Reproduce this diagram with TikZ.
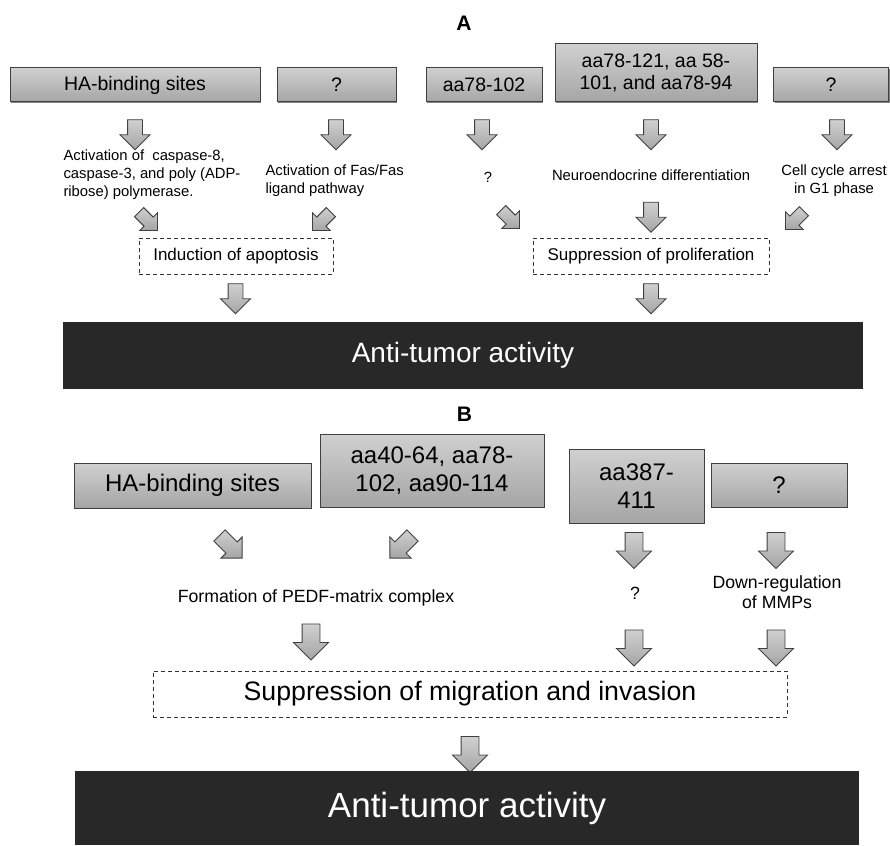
\documentclass[tikz,border=0pt]{standalone}
\usepackage{fontspec}
\setmainfont{Liberation Sans}
\usepackage{tikz}
\definecolor{Boxl}{RGB}{208,208,208}
\definecolor{Boxd}{RGB}{165,165,165}
\definecolor{Barb}{RGB}{40,40,40}
\usetikzlibrary{shapes.arrows, shadows}

\tikzset{
    grbox/.style={draw=black!75, line width=1pt, top color=Boxl, bottom color=Boxd,
                  drop shadow={shadow xshift=1.2pt, shadow yshift=-1.2pt, fill=black!60, opacity=0.8},
                  inner sep=0pt, align=center},
    dbox/.style={draw=black!80, line width=0.9pt, dash pattern=on 4pt off 3pt,
                 fill=white, inner sep=0pt},
    bar/.style={fill=Barb, text=white, inner sep=0pt},
    barr/.style={single arrow, draw=black!75, line width=0.9pt, top color=Boxl,
                 bottom color=Boxd, inner xsep=0pt, single arrow tip angle=90},
    arrA/.style={barr, minimum height=30, inner ysep=7, single arrow head extend=7.5},
    arrB/.style={barr, minimum height=36, inner ysep=8.5, single arrow head extend=8.5},
    diagA/.style={barr, minimum height=26, inner ysep=6, single arrow head extend=6},
    diagB/.style={barr, minimum height=32, inner ysep=7.5, single arrow head extend=7},
    lab/.style={font=\bfseries\fontsize{21}{24}\selectfont},
    boxA/.style={font=\fontsize{19.5}{22.5}\selectfont},
    boxB/.style={font=\fontsize{24}{28.5}\selectfont},
    smA/.style={font=\fontsize{14.8}{18}\selectfont},
    smB/.style={font=\fontsize{17.7}{20}\selectfont, align=center},
}

\begin{document}
\begin{tikzpicture}[x=1pt, y=-1pt]
    \useasboundingbox (0,0) rectangle (890,845);

    % panel A
    \node [lab] (labA) at (464,23) {A};
    \node [grbox, boxA, minimum width=250, minimum height=34] (a1) at (135,85) {HA-binding sites};
    \node [grbox, boxA, minimum width=119, minimum height=34] (a2) at (336.5,85) {?};
    \node [grbox, boxA, minimum width=116, minimum height=34] (a3) at (484,85) {aa78-102};
    \node [grbox, boxA, minimum width=202, minimum height=58] (a4) at (656,73)
            {aa78-121, aa 58-\\101, and aa78-94};
    \node [grbox, boxA, minimum width=115, minimum height=34] (a5) at (831,85) {?};

    \node [arrA, rotate=-90] (da1) at (135,131) {};
    \node [arrA, rotate=-90] (da2) at (336,131) {};
    \node [arrA, rotate=-90] (da3) at (482,131) {};
    \node [arrA, rotate=-90] (da4) at (651,131) {};
    \node [arrA, rotate=-90] (da5) at (837,131) {};

    \node [smA, anchor=west, align=left] (ta1) at (60,175)
            {Activation of\ \ caspase-8,\\caspase-3, and poly (ADP-\\ribose) polymerase.};
    \node [smA, anchor=west, align=left] (ta2) at (262,181)
            {Activation of Fas/Fas\\ligand pathway};
    \node [smA] (ta3) at (488,177) {?};
    \node [smA] (ta4) at (651,175) {Neuroendocrine differentiation};
    \node [smA, align=center] (ta5) at (834,180.5) {Cell cycle arrest\\in G1 phase};

    \node [diagA, rotate=-45] (ea1) at (146,219) {};
    \node [diagA, rotate=-135] (ea2) at (324,219) {};
    \node [diagA, rotate=-45] (ea3) at (508,217) {};
    \node [arrA, rotate=-90] (ea4) at (651,213.5) {};
    \node [diagA, rotate=-135] (ea5) at (797,218) {};

    \node [dbox, smA, font=\fontsize{17}{20}\selectfont, minimum width=194, minimum height=36]
            (apop) at (236,256) {Induction of apoptosis};
    \node [dbox, smA, font=\fontsize{17}{20}\selectfont, minimum width=236, minimum height=36]
            (prol) at (651,256) {Suppression of proliferation};

    \node [arrA, rotate=-90] (fa1) at (235.5,295) {};
    \node [arrA, rotate=-90] (fa2) at (651,295) {};

    \node [bar, minimum width=800, minimum height=67, font=\fontsize{28}{30}\selectfont]
            (tumA) at (463,355.5) {Anti-tumor activity};

    % panel B
    \node [lab] (labB) at (464.5,414.5) {B};
    \node [grbox, boxB, minimum width=237, minimum height=45] (b1) at (192.5,485.5) {HA-binding sites};
    \node [grbox, boxB, minimum width=224, minimum height=73] (b2) at (432,470.5)
            {aa40-64, aa78-\\102, aa90-114};
    \node [grbox, boxB, minimum width=135, minimum height=74] (b3) at (636.5,486) {aa387-\\411};
    \node [grbox, boxB, minimum width=136, minimum height=44] (b4) at (779,485) {?};

    \node [diagB, rotate=-45] (db1) at (228,544) {};
    \node [diagB, rotate=-135] (db2) at (404,544) {};
    \node [arrB, rotate=-90] (db3) at (634,546) {};
    \node [arrB, rotate=-90] (db4) at (776,546) {};

    \node [smB] (tb1) at (316,598) {Formation of PEDF-matrix complex};
    \node [smB] (tb2) at (635,593) {?};
    \node [smB] (tb3) at (777,592) {Down-regulation\\of MMPs};

    \node [arrB, rotate=-90] (eb1) at (311,637.5) {};
    \node [arrB, rotate=-90] (eb2) at (634,643.5) {};
    \node [arrB, rotate=-90] (eb3) at (776,643.5) {};

    \node [dbox, font=\fontsize{26.7}{30}\selectfont, minimum width=634, minimum height=46]
            (migr) at (470,694) {Suppression of migration and invasion};

    \node [arrB, rotate=-90] (fb1) at (470,750) {};

    \node [bar, minimum width=784, minimum height=74, font=\fontsize{35}{38}\selectfont]
            (tumB) at (467,808) {Anti-tumor activity};
\end{tikzpicture}
\end{document}
